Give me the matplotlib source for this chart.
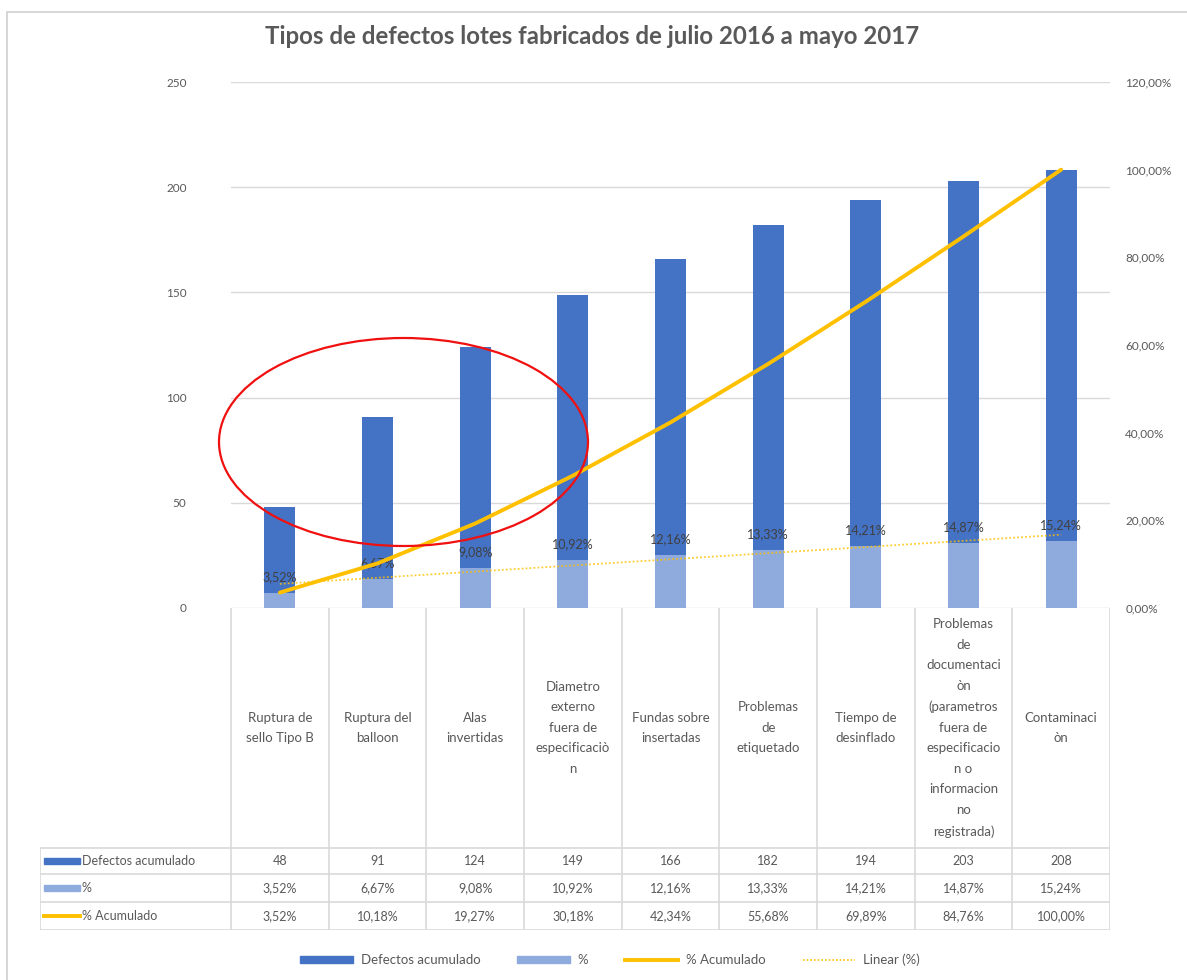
import numpy as np
import matplotlib.pyplot as plt
from matplotlib.patches import Ellipse, Rectangle
from matplotlib.lines import Line2D

plt.rcParams['font.family'] = ['Lato', 'DejaVu Sans']

# Defect types (wrapped the way the table cells wrap them)
categories = [
    "Ruptura de\nsello Tipo B",
    "Ruptura del\nballoon",
    "Alas\ninvertidas",
    "Diametro\nexterno\nfuera de\nespecificaciò\nn",
    "Fundas sobre\ninsertadas",
    "Problemas\nde\netiquetado",
    "Tiempo de\ndesinflado",
    "Problemas\nde\ndocumentaci\nòn\n(parametros\nfuera de\nespecificacio\nn o\ninformacion\nno\nregistrada)",
    "Contaminaci\nòn",
]
defectos_acum = [48, 91, 124, 149, 166, 182, 194, 203, 208]
pct = [3.52, 6.67, 9.08, 10.92, 12.16, 13.33, 14.21, 14.87, 15.24]
pct_acum = [3.52, 10.18, 19.27, 30.18, 42.34, 55.68, 69.89, 84.76, 100.00]

left_ticks = [0, 50, 100, 150, 200, 250]
right_ticks = [0, 20, 40, 60, 80, 100, 120]

DARK = '#4472C4'
LIGHT = '#8FAADC'
GOLD = '#FFC000'
TXT = '#595959'
GRID = '#D9D9D9'

W, H = 1187, 980
fig = plt.figure(figsize=(W / 100, H / 100), dpi=100)


def fx(px):
    return px / W


def fy(py):
    return 1 - py / H


# chart border
fig.patches.append(Rectangle((fx(7), fy(1000)), fx(1200), fy(12) - fy(1000),
                             transform=fig.transFigure, fill=False,
                             edgecolor='#D0D0D0', lw=1.2))

x = np.arange(len(categories))
n = len(categories)

ax = fig.add_axes([fx(231), fy(608), fx(1110) - fx(231), fy(82) - fy(608)])
ax.set_xlim(-0.5, n - 0.5)
ax.set_ylim(0, 250)
ax.set_yticks(left_ticks)
ax.set_yticklabels([str(t) for t in left_ticks])
ax.yaxis.grid(True, color=GRID, lw=1)
ax.set_axisbelow(True)
ax.set_xticks([])
for s in ax.spines.values():
    s.set_visible(False)
ax.tick_params(axis='y', length=0, pad=32, labelsize=8.5, labelcolor=TXT)

bw = 0.32
ax.bar(x, defectos_acum, width=bw, color=DARK, zorder=2)

ax2 = ax.twinx()
ax2.set_ylim(0, 120)
ax2.set_yticks(right_ticks)
ax2.set_yticklabels([f"{t},00%" for t in right_ticks])
for s in ax2.spines.values():
    s.set_visible(False)
ax2.tick_params(axis='y', length=0, pad=11, labelsize=8.5, labelcolor=TXT)

ax2.bar(x, pct, width=bw, color=LIGHT, zorder=2)
for xi, v in zip(x, pct):
    ax2.annotate(f"{v:.2f}%".replace('.', ','), (xi, v), xytext=(0, 7),
                 textcoords='offset points', ha='center', va='bottom',
                 fontsize=9, color='#404040')

ax2.plot(x, pct_acum, color=GOLD, lw=2.8, solid_capstyle='round', zorder=4)

# linear trend of the % series
coef = np.polyfit(x, pct, 1)
ax2.plot(x, np.polyval(coef, x), color=GOLD, lw=1.3, ls=(0, (1, 1.2)),
         alpha=0.8, zorder=3)

# red highlight around the first three defect types
fig.patches.append(Ellipse((fx(403.5), fy(442)), fx(369), 208 / H,
                           transform=fig.transFigure, fill=False,
                           edgecolor='#F01010', lw=1.6, zorder=10))

# data table under the chart
tax = fig.add_axes([fx(40), fy(930), fx(1110) - fx(40), fy(608) - fy(930)])
col_px = (1110 - 231) / n
x0 = -0.5 - (231 - 40) / col_px
tax.set_xlim(x0, n - 0.5)
tax.set_ylim(930, 608)
tax.axis('off')

rows_y = [848, 874, 902, 930]
lkw = dict(color=GRID, lw=1.2, solid_capstyle='butt')
for k in range(n + 1):
    tax.plot([k - 0.5, k - 0.5], [608, 930], **lkw)
tax.plot([x0, x0], [rows_y[0], 930], **lkw)
for yy in rows_y:
    tax.plot([x0, n - 0.5], [yy, yy], **lkw)

for xi, lab in zip(x, categories):
    tax.text(xi, (608 + rows_y[0]) / 2, lab, ha='center', va='center',
             fontsize=9.5, color=TXT, linespacing=1.85)

row_vals = [
    [str(v) for v in defectos_acum],
    [f"{v:.2f}%".replace('.', ',') for v in pct],
    [f"{v:.2f}%".replace('.', ',') for v in pct_acum],
]
row_names = ["Defectos acumulado", "%", "% Acumulado"]
for r in range(3):
    yc = (rows_y[r] + rows_y[r + 1]) / 2
    for xi, s in zip(x, row_vals[r]):
        tax.text(xi, yc, s, ha='center', va='center', fontsize=9, color=TXT)
    tax.text(x0 + 42 / col_px, yc, row_names[r], ha='left', va='center',
             fontsize=9, color=TXT)

kx = x0 + 4 / col_px
kw = 36 / col_px
tax.add_patch(Rectangle((kx, (rows_y[0] + rows_y[1]) / 2 - 3), kw, 6, color=DARK))
tax.add_patch(Rectangle((kx, (rows_y[1] + rows_y[2]) / 2 - 3), kw, 6, color=LIGHT))
yc = (rows_y[2] + rows_y[3]) / 2
tax.plot([kx, kx + kw], [yc, yc], color=GOLD, lw=2.8)

# bottom legend
handles = [
    Rectangle((0, 0), 1, 1, color=DARK),
    Rectangle((0, 0), 1, 1, color=LIGHT),
    Line2D([], [], color=GOLD, lw=2.8),
    Line2D([], [], color=GOLD, lw=1.2, ls=(0, (1, 1.2))),
]
fig.legend(handles, ["Defectos acumulado", "%", "% Acumulado", "Linear (%)"],
           loc='center', bbox_to_anchor=(fx(610), fy(960)), ncol=4,
           frameon=False, fontsize=9.5, labelcolor=TXT, handlelength=4.0,
           handleheight=0.5, handletextpad=0.6, columnspacing=2.8)

fig.text(fx(592), fy(37), "Tipos de defectos lotes fabricados de julio 2016 a mayo 2017",
         ha='center', va='center', fontsize=17.3, fontweight='bold', color=TXT)

plt.savefig("out.png", dpi=100)
